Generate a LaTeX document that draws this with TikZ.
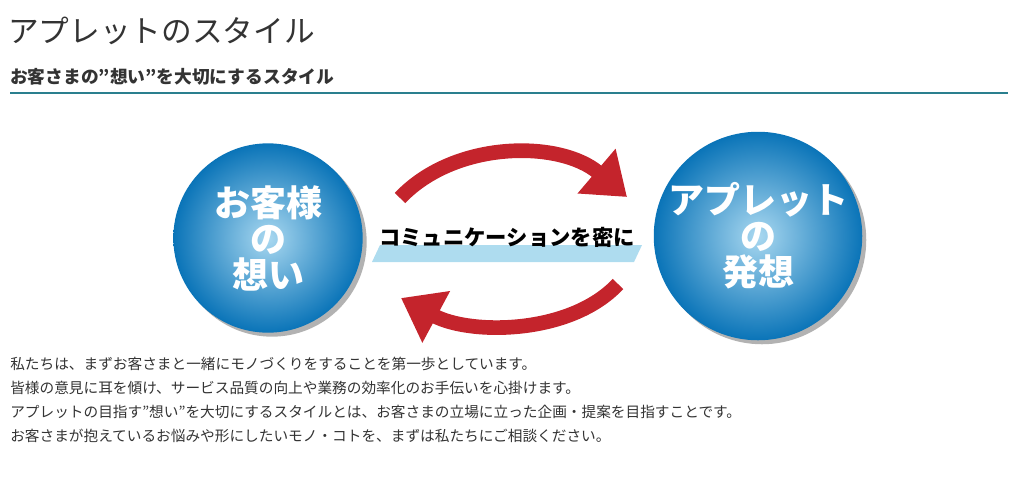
\documentclass[tikz,border=0pt]{standalone}
\usepackage{fontspec}
\setmainfont{Noto Sans CJK JP}[Ligatures=ResetAll]
\usetikzlibrary{arrows.meta,shadows,shapes.geometric}
\definecolor{arrred}{HTML}{C4242C}
\definecolor{cdark}{HTML}{0A74B8}
\definecolor{clight}{HTML}{A9D8F0}
\definecolor{band}{HTML}{AEDCEF}
\definecolor{teal}{HTML}{2A7F8E}
\definecolor{txt}{HTML}{333333}
\tikzset{
 bubble/.style={circle, minimum size=142pt, inner sep=0pt, inner color=clight, outer color=cdark,
   drop shadow={shadow xshift=3pt, shadow yshift=-3pt, opacity=0.5, fill=black!60},
   text=white, font=\bfseries\fontsize{27}{31}\selectfont, align=center},
 flow/.style={arrred, line width=11pt, -{Triangle[length=30pt,width=42pt]}},
 body/.style={anchor=west, text=txt, font=\fontsize{11}{13}\selectfont, inner sep=0pt}
}
\begin{document}
\begin{tikzpicture}[x=0.75pt,y=-0.75pt]
\useasboundingbox (0,0) rectangle (1016,501);
\node[anchor=west, inner sep=0pt, text=txt, font=\fontsize{23}{27}\selectfont] (title) at (8,31) {アプレットのスタイル};
\node[anchor=west, inner sep=0pt, text=txt, font=\bfseries\fontsize{13.3}{16}\selectfont] (sub) at (10,77) {お客さまの"想い"を大切にするスタイル};
\coordinate (l1) at (10,93); \coordinate (l2) at (1008,93);
\draw[teal, line width=0.8pt] (l1) -- (l2);
\node[bubble] (c1) at (268,238) {お客様\\[-4pt]の\\[-4pt]想い};
\node[bubble] (c2) at (758,236) {アプレット\\[-4pt]の\\[-4pt]発想};
\fill[band] (380,245) -- (642,245) -- (634,262) -- (372,262) -- cycle;
\node[font=\bfseries\fontsize{16}{18}\selectfont, inner sep=0pt] (mid) at (507,237) {コミュニケーションを密に};
\coordinate (a1) at (400,198); \coordinate (a2) at (627,197);
\draw[flow] (a1) .. controls (455,140) and (560,140) .. (a2);
\coordinate (b1) at (618,284); \coordinate (b2) at (401,298);
\draw[flow] (b1) .. controls (570,335) and (470,335) .. (b2);
\node[body] (p1) at (10,364) {私たちは、まずお客さまと一緒にモノづくりをすることを第一歩としています。};
\node[body] (p2) at (10,388) {皆様の意見に耳を傾け、サービス品質の向上や業務の効率化のお手伝いを心掛けます。};
\node[body] (p3) at (10,412) {アプレットの目指す"想い"を大切にするスタイルとは、お客さまの立場に立った企画・提案を目指すことです。};
\node[body] (p4) at (10,436) {お客さまが抱えているお悩みや形にしたいモノ・コトを、まずは私たちにご相談ください。};
\end{tikzpicture}
\end{document}
